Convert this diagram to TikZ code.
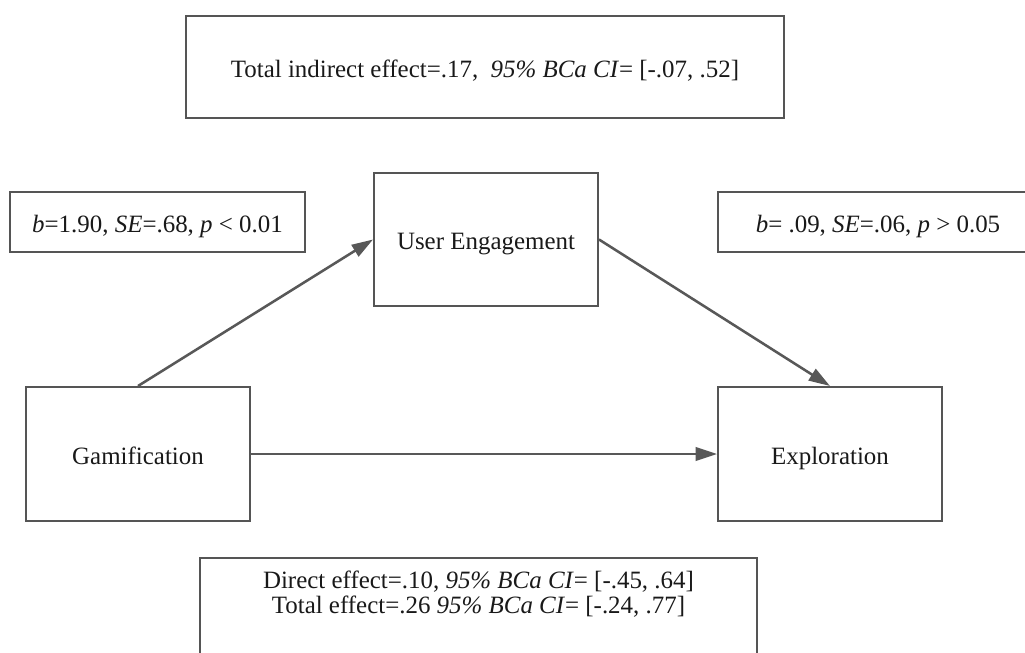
\documentclass[tikz,border=0pt]{standalone}
\usepackage{fontspec}
\setmainfont{Liberation Serif}
\usetikzlibrary{arrows.meta}
\newcommand\pu{0.75pt}
\definecolor{linegray}{HTML}{555555}
\definecolor{arrowgray}{HTML}{585858}
\tikzset{
  box/.style={draw=linegray, line width=1.5pt, inner sep=0pt, align=center,
              font=\fontsize{18.7pt}{18.8pt}\selectfont, text=black!90},
  single/.style={text height=15pt, text depth=0pt},
  conn/.style={draw=arrowgray, line width=1.9pt,
               -{Triangle[length=16pt,width=10pt]}},
}
\begin{document}
\begin{tikzpicture}[x=0.75pt,y=-0.75pt]
\clip (0,0) rectangle (1025,653);
\fill[white] (0,0) rectangle (1025,653);

\node[box, single, minimum width={598*\pu}, minimum height={102*\pu}] (top) at (485,67)
  {Total indirect effect=.17,\ \ \textit{95\% BCa CI}= [-.07, .52]};

\node[box, single, minimum width={295*\pu}, minimum height={60*\pu}] (lab1) at (157.5,222)
  {\textit{b}=1.90, \textit{SE}=.68, \textit{p} < 0.01};

\node[box, single, minimum width={320*\pu}, minimum height={60*\pu}] (lab2) at (878,222)
  {\textit{b}= .09, \textit{SE}=.06, \textit{p} > 0.05};

\node[box, single, minimum width={224*\pu}, minimum height={133*\pu}] (ue) at (486,239.5)
  {User Engagement};

\node[box, single, minimum width={224*\pu}, minimum height={134*\pu}] (gam) at (138,454)
  {Gamification};

\node[box, single, minimum width={224*\pu}, minimum height={134*\pu}] (exp) at (830,454)
  {Exploration};

\node[box, anchor=north, minimum width={557*\pu}, minimum height={140*\pu}] (bot) at (478.5,557) {};
\node[box, draw=none, anchor=north, yshift={-13*\pu}] (bottxt) at (bot.north)
  {Direct effect=.10, \textit{95\% BCa CI}= [-.45, .64]\\
   Total effect=.26 \textit{95\% BCa CI}= [-.24, .77]};

\draw[conn] (gam.north) -- (ue.west);
\draw[conn] (ue.east) -- (exp.north);
\draw[conn] (gam.east) -- (exp.west);
\end{tikzpicture}
\end{document}
